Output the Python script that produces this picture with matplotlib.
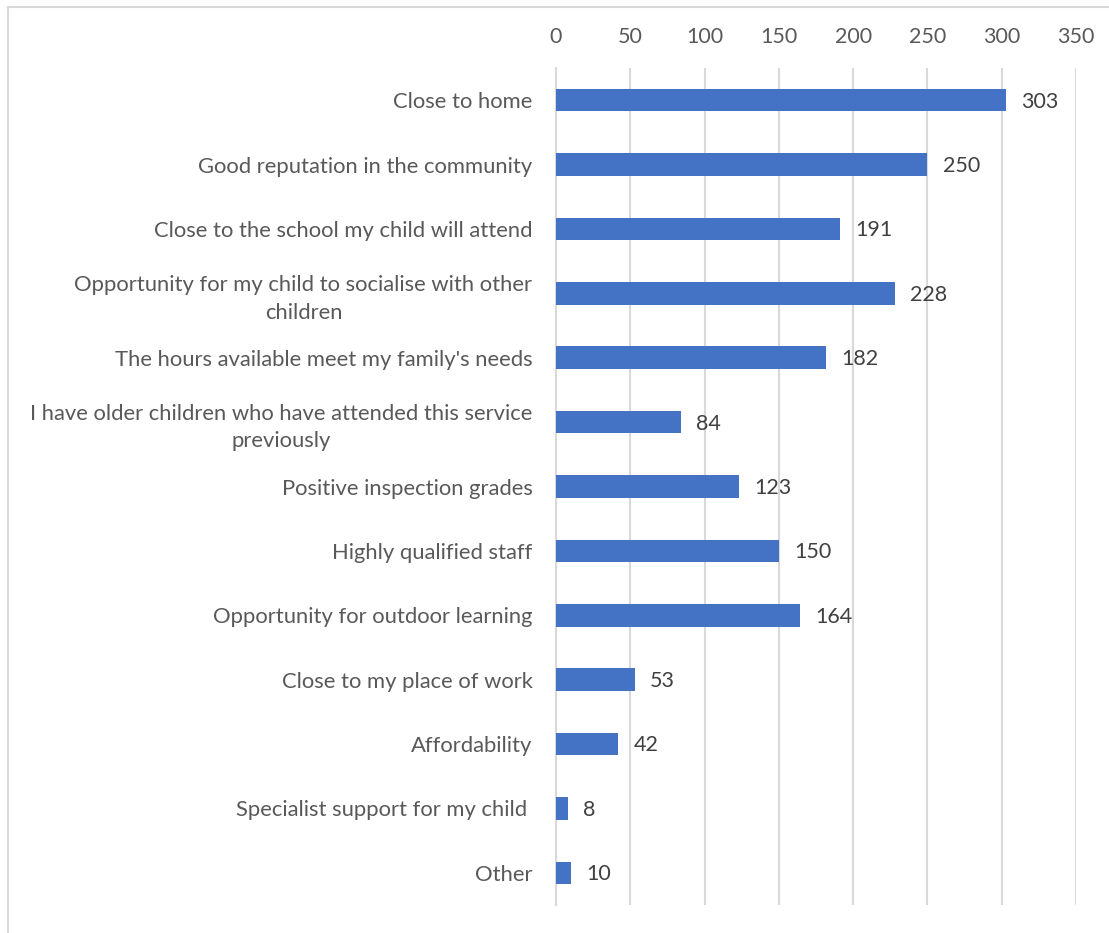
import matplotlib.pyplot as plt
from matplotlib.lines import Line2D

categories = [
    "Close to home",
    "Good reputation in the community",
    "Close to the school my child will attend",
    "Opportunity for my child to socialise with other\nchildren",
    "The hours available meet my family's needs",
    "I have older children who have attended this service\npreviously",
    "Positive inspection grades",
    "Highly qualified staff",
    "Opportunity for outdoor learning",
    "Close to my place of work",
    "Affordability",
    "Specialist support for my child ",
    "Other",
]
counts = [303, 250, 191, 228, 182, 84, 123, 150, 164, 53, 42, 8, 10]
ticks = [0, 50, 100, 150, 200, 250, 300, 350]

plt.rcParams['font.family'] = ['Lato', 'DejaVu Sans']

fig = plt.figure(figsize=(11.09, 9.33), dpi=100)
ax = fig.add_axes([0.5014, 0.030, 0.4688, 0.8971])

pos = list(range(len(categories)))
ax.barh(pos, counts, height=0.35, color='#4472c4', zorder=3)
ax.set_ylim(len(categories) - 0.5, -0.5)
ax.set_xlim(0, 350)
ax.set_xticks(ticks)
ax.set_yticks(pos)
ax.set_yticklabels(categories, multialignment='center', linespacing=1.45)

ax.xaxis.tick_top()
ax.tick_params(axis='x', length=0, pad=15, labelsize=15.5, labelcolor='#595959')
ax.tick_params(axis='y', length=0, pad=17, labelsize=15.8, labelcolor='#595959')
ax.grid(axis='x', color='#d9d9d9', linewidth=1.5, zorder=0)
for s in ['top', 'right', 'bottom']:
    ax.spines[s].set_visible(False)
ax.spines['left'].set_color('#d9d9d9')
ax.spines['left'].set_linewidth(1.5)

for p, v in zip(pos, counts):
    ax.annotate(str(v), (v, p), xytext=(11, -1), textcoords='offset points',
                va='center', ha='left', fontsize=15.5, color='#404040')

# chart frame: only top and left edges are visible in the crop
bx, by = 7.5 / 1109, 1 - 6.5 / 933
fig.lines.append(Line2D([bx, 1.0], [by, by], transform=fig.transFigure,
                        color='#d9d9d9', linewidth=1.5))
fig.lines.append(Line2D([bx, bx], [0, by], transform=fig.transFigure,
                        color='#d9d9d9', linewidth=1.5))

fig.savefig('out.png', dpi=100)
